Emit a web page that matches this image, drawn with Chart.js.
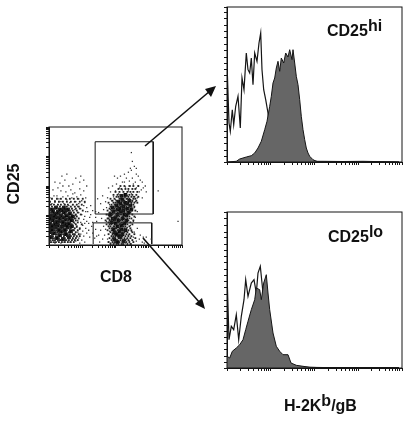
<!DOCTYPE html>
<html>
<head>
<meta charset="utf-8">
<script src="https://cdn.jsdelivr.net/npm/chart.js@4"></script>
<style>
  html, body { margin: 0; padding: 0; background: #fff; }
  body { position: relative; width: 407px; height: 422px; overflow: hidden; font-family: "Liberation Sans", Arial, sans-serif; font-weight: bold; color: #111; }
  canvas { position: absolute; }
  .lbl { position: absolute; white-space: nowrap; font-size: 16px; line-height: 18px; }
  .lbl sup { font-size: 16px; line-height: 0; vertical-align: 5px; }
  #arrows { position: absolute; left: 0; top: 0; }
</style>
</head>
<body>
<canvas id="dotPlot" width="143" height="126" style="left:43px;top:123px"></canvas>
<canvas id="histHi" width="183" height="161" style="left:221px;top:5px"></canvas>
<canvas id="histLo" width="183" height="162" style="left:221px;top:210px"></canvas>

<svg id="arrows" width="407" height="422">
  <line x1="145" y1="146" x2="210" y2="91" stroke="#111" stroke-width="1.6"/>
  <polygon points="216,86 205,89 211,97" fill="#111"/>
  <line x1="143" y1="238" x2="200" y2="303" stroke="#111" stroke-width="1.6"/>
  <polygon points="205,309 195,304 202,298" fill="#111"/>
</svg>

<div class="lbl" style="left:-6px;top:175px;transform:rotate(-90deg)">CD25</div>
<div class="lbl" style="left:100px;top:268px">CD8</div>
<div class="lbl" style="left:327px;top:22px">CD25<sup>hi</sup></div>
<div class="lbl" style="left:328px;top:228px">CD25<sup>lo</sup></div>
<div class="lbl" style="left:284px;top:397px">H-2K<sup>b</sup>/gB</div>

<script>
// каналы: x 0..134, y 0..120 для dot plot, 0..175 / 0..156 для гистограмм
const dotXTicks = [0,10,16,20,23,26,28,30,32,33.5,43.5,50,53.5,57,59.5,61.5,63.5,65.5,67,77,83,87,90,93,95,97,98.5,100.5,110.5,116.5,120.5,124,126,128,130,132,134];
const dotYTicks = [0,9,14,18,21,23,25,27,28.5,30,39,44,48,51,53,55,57,58.5,60,69,74,78,81,83,85,87,88.5,90,99,104,108,111,113,115,117,118.5,120];
const histXTicks = [0,13,21,26,31,34,37,39,41,43.7,57,65,70,74,78,81,83,85,87.4,101,109,114,118,122,125,127,129,131,144,152,158,162,165,168,170,172,175];
const histYTicks = [0,6,12,19,25,31,37,43,50,56,62,68,74,81,87,93,99,105,112,118,124,130,136,143,149,155];

// строки плотных облаков: первый элемент y, дальше x событий
const leftRows = [
  [3,0,2,5,7,10,13,16,19,22,25],
  [5,1,4,6,9,11,12,15,17,20,23,26,29],
  [7,0,3,5,10,13,14,16,19,21,24,27],
  [9,1,2,4,7,9,12,15,18,20,22,25,28,31],
  [11,0,3,6,8,10,13,15,19,21,24,26,30],
  [13,2,4,7,9,11,14,16,17,20,23,27],
  [15,0,1,5,6,8,12,14,18,21,24,25,29],
  [17,2,4,7,10,11,13,15,17,19,22,26,31],
  [19,0,1,5,6,8,12,14,16,20,21,24,28],
  [21,2,3,4,7,9,10,13,15,18,22,23,27,33],
  [23,0,1,5,6,9,11,12,16,17,19,21,25,29],
  [25,2,3,7,8,10,13,14,15,18,20,24,27],
  [27,0,4,5,6,9,12,16,17,19,22,23,26,30],
  [29,1,3,7,8,10,11,14,15,20,21,25,28],
  [31,0,2,4,5,9,12,13,16,18,19,23,27,32],
  [33,1,3,6,7,10,11,14,17,20,22,25,29],
  [35,0,2,5,8,9,12,15,16,18,21,24,28,34],
  [37,1,4,6,10,13,14,17,20,23,27,31],
  [39,0,3,7,8,11,15,18,22,26,30],
  [41,2,5,9,12,16,19,24,28,33],
  [44,1,6,10,14,18,22,26,31,36],
  [47,3,8,12,17,21,25,29,34]
];
const rightRows = [
  [1,62,65,68,70,73,75,79,82],
  [3,60,64,66,67,71,74,76,78,81,85],
  [5,63,65,68,69,72,75,77,80,84],
  [7,61,64,66,70,71,73,76,79,82,87],
  [9,63,65,67,69,72,74,77,80,83],
  [11,60,64,66,70,71,73,75,78,81,86],
  [13,62,65,67,68,72,74,76,79,84],
  [15,59,63,66,69,70,73,75,77,80,83],
  [17,61,64,67,68,71,72,76,78,82],
  [19,60,62,65,66,70,74,75,77,81],
  [21,58,61,63,67,68,71,72,76,79,84],
  [23,60,62,64,65,69,70,73,75,78,82],
  [25,57,61,63,66,67,71,72,74,77,80,85],
  [27,59,60,64,65,68,70,73,76,79,83],
  [29,61,62,66,67,69,71,74,75,78,81,86],
  [31,58,60,63,64,68,70,72,73,77,80,84],
  [33,61,62,65,66,69,71,74,76,79,82],
  [35,59,63,64,67,68,72,73,75,78,81,83,87],
  [37,61,65,66,69,70,74,76,77,80,84],
  [39,62,64,67,70,72,73,75,78,81,83,86],
  [41,63,66,68,71,74,76,77,80,82,85],
  [43,60,65,67,69,72,75,78,79,83,86,89],
  [45,64,68,70,73,74,76,80,82,84,88],
  [47,62,66,71,72,75,78,79,81,85,87],
  [49,68,70,73,76,77,80,83,86,90],
  [51,65,69,72,74,78,81,84,88],
  [54,67,71,75,79,82,85,89],
  [57,70,73,77,80,84,87],
  [60,72,76,81,85,90]
];

// самые чёрные участки - ядра популяций
const leftCore = [[2,8],[5,12],[8,7],[11,10],[14,6],[17,11],[20,8],[3,16],[7,18],[10,15],[13,19],[16,15],[19,18],[22,14],[1,22],[4,25],[8,23],[11,27],[14,23],[17,26],[20,22],[23,25],[2,30],[6,31],[9,33],[12,30],[15,33],[18,30],[21,32],[24,29],[3,36],[7,38],[11,36],[15,38],[19,36],[1,13],[6,21],[12,14],[18,21],[9,20],[15,28],[5,28],[21,27],[3,19],[13,35],[8,28],[4,34],[17,35],[10,24],[23,19],[1,27],[16,20]];
const rightCore = [[66,6],[69,3],[72,8],[75,4],[68,11],[71,14],[74,11],[77,15],[65,16],[69,19],[73,20],[76,22],[63,23],[66,26],[70,25],[74,27],[78,25],[62,31],[65,34],[69,31],[72,34],[76,31],[80,33],[64,38],[68,40],[71,37],[75,39],[79,37],[82,40],[70,44],[74,46],[77,43],[81,45],[73,50],[77,51],[67,28],[71,9],[73,16],[67,22],[78,30],[69,36],[75,35],[66,13],[72,42],[79,42],[64,27],[83,36]];

// редкие события вокруг облаков
const leftDots = [[1,3],[3,5],[6,2],[9,4],[12,2],[15,3],[18,5],[21,3],[24,6],[27,4],[30,7],[33,5],[36,3],[26,10],[29,13],[32,11],[35,9],[38,12],[41,8],[25,15],[28,18],[31,16],[34,20],[37,17],[40,15],[43,19],[26,22],[29,25],[32,23],[35,26],[38,24],[41,28],[44,23],[27,30],[30,33],[33,31],[36,29],[39,34],[42,31],[26,36],[29,39],[32,37],[35,40],[38,38],[24,41],[27,44],[30,42],[33,45],[36,43],[21,43],[18,46],[15,42],[12,44],[9,41],[6,45],[3,42],[1,48],[5,50],[10,47],[14,49],[19,50],[23,48],[28,49],[32,51],[37,48],[12,55],[17,54],[22,56],[26,53],[31,57],[35,55],[38,60],[31,64],[24,62],[20,60],[14,60],[9,58],[6,64],[16,66],[27,68],[32,70],[35,66],[18,72],[13,70],[4,56],[37,34],[40,22],[42,40],[44,12],[47,16],[46,7],[48,24],[50,10],[44,35],[25,33],[27,27],[23,37],[25,11],[22,9],[28,8],[31,2],[34,14],[36,22],[24,52],[20,40],[30,47],[3,3],[8,50],[47,34],[11,63]];
const rightDots = [[47,28],[50,33],[53,27],[55,36],[52,42],[49,47],[54,50],[57,44],[58,38],[60,30],[58,24],[55,19],[52,15],[56,10],[59,6],[61,14],[60,3],[63,9],[63,17],[62,2],[57,16],[54,6],[51,3],[48,9],[61,41],[59,48],[62,54],[65,49],[60,58],[64,60],[67,55],[70,52],[68,62],[71,58],[74,56],[77,59],[80,55],[83,52],[85,49],[87,44],[89,48],[91,54],[88,58],[85,62],[81,65],[78,68],[74,64],[72,70],[76,72],[80,74],[84,68],[87,64],[90,60],[93,56],[95,58],[92,66],[88,72],[83,76],[86,80],[90,70],[94,64],[97,60],[82,60],[79,50],[86,38],[89,34],[84,31],[81,27],[85,24],[82,20],[79,18],[83,14],[80,10],[78,6],[81,4],[85,8],[88,4],[91,6],[94,3],[86,13],[89,17],[87,28],[92,10],[96,2],[98,8],[74,1],[70,1],[66,2],[64,12],[77,2],[83,1],[84,44],[67,46],[63,45],[62,36],[61,26],[83,42],[76,64],[69,68],[66,70],[84,85],[82,78],[103,6],[95,8],[110,55],[130,24],[83,94],[88,78],[98,54],[94,48]];

const hiFillX = [0,9.3,12.7,16,19.3,24.3,27.7,31,34.3,37.7,40,42.7,44.3,46,47.7,49.3,51,52.7,54.3,56.7,58.7,61,62.7,65,66,67.7,69.3,71,72.7,74.3,76,77.7,79.3,81,82.7,86,89.3,96,116,136,172];
const hiFillY = [0,0.7,3,4,5,6.3,9,14,20.7,32.3,40.7,55.7,65.7,79,84,94,100.7,90.7,104,99,109,105,112.3,102.3,112.3,99,85.7,77.3,62.3,45.7,32.3,22.3,14,9,5.7,2.3,0.7,0.7,0.5,0.7,0];
const hiLineX = [0,0,2,3.3,5.3,6.7,8.7,11,13.3,15,17,19.3,21,22.7,24.3,26,27.7,30,32,33.7,35,36.7,38.7,41,42.7,46,49.3,52.7,56,59.3,62.7,70,80,90,100,172];
const hiLineY = [0,99,39,30.7,52.3,37.3,55.7,65.7,34,84,72.3,109,92.3,89,104,77.3,109,100.7,119,129,92.3,72.3,62.3,49,32.3,22.3,12.3,5.7,4,2.3,1.3,1,2,0.7,0.3,0];

const loFillX = [0,2.7,5.3,9.3,12.7,16,18.7,21,24.3,27.7,29.3,32.7,34.3,36.7,39.3,41,42.7,46,49.3,52.7,56,61,64,69.3,76,83,96,172];
const loFillY = [11.7,10,16.7,20,23.3,28.3,38.3,46.7,58.3,68.3,80,78.3,68.3,85,93.3,75,58.3,35,21.7,16.7,13.3,13.3,5,2.7,1.7,0.7,0.5,0.3];
const loLineX = [0,0,2,4.3,6.7,9.3,11.7,14.3,17,18.7,21,24.3,27,29.3,31,33.3,35,37.7,40,42.7,46,49.3,52.7,56,62,70,90,172];
const loLineY = [0,95,28.3,41.7,38.3,53.3,28.3,51.7,68.3,88.3,71.7,85,88.3,75,95,101.7,85,58.3,31.7,21.7,13.3,8.3,5,3.3,1.5,1,0.5,0.3];

const gateHiX = [46.5,105,105,46.5,46.5];
const gateHiY = [105,105,31.5,31.5,105];
const gateLoX = [44.5,44.5,103.5,103.5];
const gateLoY = [1,22.5,22.5,1];

const INK = '#151515';

function zipXY(xs, ys) {
  return xs.map((x, i) => ({ x, y: ys[i] }));
}

function pairs(list) {
  return list.map(p => ({ x: p[0], y: p[1] }));
}

function rowsToPairs(rows) {
  return rows.flatMap(r => r.slice(1).map(x => ({ x, y: r[0] })));
}

// рамка панели: оси рисуют только левую и нижнюю стороны
const framePlugin = {
  id: 'frame',
  afterDatasetsDraw(chart) {
    const { ctx, chartArea: a } = chart;
    ctx.save();
    ctx.strokeStyle = INK;
    ctx.lineWidth = 1;
    ctx.strokeRect(a.left, a.top, a.right - a.left, a.bottom - a.top);
    ctx.restore();
  }
};

function axis(position, max, tickValues) {
  return {
    type: 'linear',
    position,
    min: 0,
    max,
    afterBuildTicks(scale) { scale.ticks = tickValues.map(value => ({ value })); },
    afterFit(scale) {
      if (position === 'bottom') scale.height = 4;
      else scale.width = 6;
    },
    ticks: { display: false },
    border: { display: true, color: INK, width: 1 },
    grid: { drawOnChartArea: false, drawTicks: true, tickLength: 3, color: INK, tickWidth: 1 }
  };
}

function makeChart(id, datasets, xMax, yMax, xTicks, yTicks) {
  return new Chart(document.getElementById(id), {
    type: 'scatter',
    data: { datasets },
    options: {
      responsive: false,
      animation: false,
      layout: { padding: { top: 2, right: 2 } },
      plugins: { legend: { display: false }, tooltip: { enabled: false } },
      scales: { x: axis('bottom', xMax, xTicks), y: axis('left', yMax, yTicks) }
    },
    plugins: [framePlugin]
  });
}

function outline(xs, ys) {
  return { data: zipXY(xs, ys), showLine: true, pointRadius: 0, borderColor: INK, borderWidth: 1.2, fill: false };
}

function filled(xs, ys) {
  return { data: zipXY(xs, ys), showLine: true, pointRadius: 0, borderColor: INK, borderWidth: 1, backgroundColor: '#666', fill: 'origin' };
}

function gate(xs, ys) {
  return { data: zipXY(xs, ys), showLine: true, pointRadius: 0, borderColor: INK, borderWidth: 1 };
}

function dots(points, radius, color) {
  return { data: points, pointStyle: 'rect', pointRadius: radius, pointBorderWidth: 0, pointBackgroundColor: color };
}

makeChart('dotPlot', [
  dots(rowsToPairs(leftRows), 1.3, '#222'),
  dots(rowsToPairs(rightRows), 1.3, '#222'),
  dots(pairs(leftCore), 2.6, '#080808'),
  dots(pairs(rightCore), 2.6, '#080808'),
  dots(pairs(leftDots), 0.9, '#333'),
  dots(pairs(rightDots), 0.9, '#333'),
  gate(gateHiX, gateHiY),
  gate(gateLoX, gateLoY)
], 134, 120, dotXTicks, dotYTicks);

makeChart('histHi', [filled(hiFillX, hiFillY), outline(hiLineX, hiLineY)], 175, 155, histXTicks, histYTicks);
makeChart('histLo', [filled(loFillX, loFillY), outline(loLineX, loLineY)], 175, 156, histXTicks, histYTicks);
</script>
</body>
</html>
